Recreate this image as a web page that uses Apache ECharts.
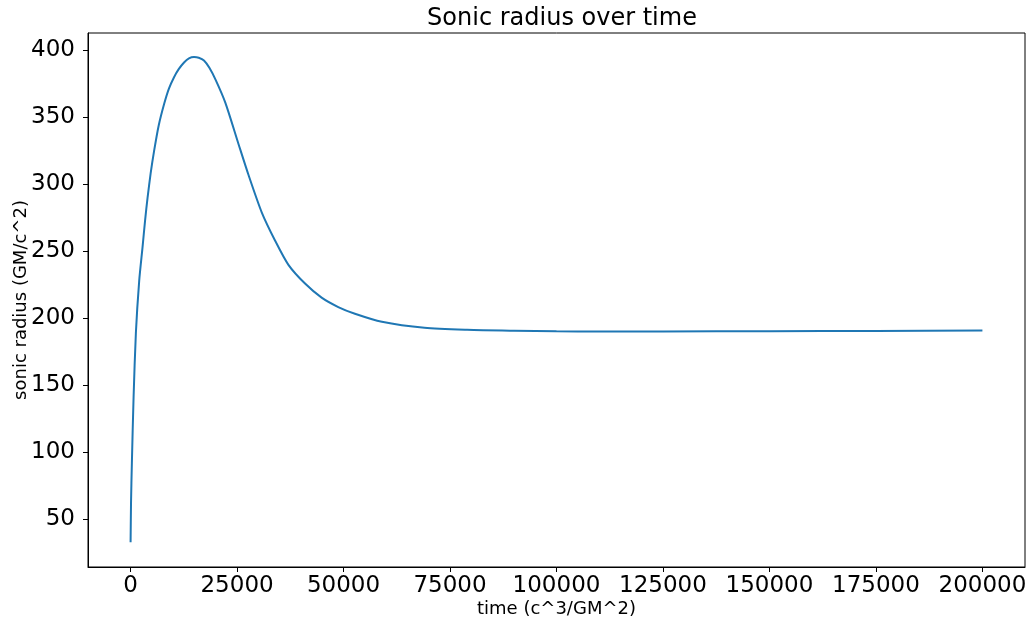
<!DOCTYPE html>
<html>
<head>
    <meta charset="utf-8">
    <title>Sonic radius over time</title>
    <script type="text/javascript" src="https://cdn.jsdelivr.net/npm/echarts@6/dist/echarts.min.js"></script>
    <style>
        html, body { margin: 0; padding: 0; background: #fff; }
    </style>
</head>
<body>
<div id="main" style="width:1031px;height:622px;"></div>
<script type="text/javascript">
    // time (c^3/GM^2) and sonic radius (GM/c^2)
    var times = [0, 100, 300, 700, 1240, 2020, 2800, 3400, 3980, 4700, 5520, 6600, 7870, 9000, 10200,
        11300, 12550, 13700, 14890, 16000, 17230, 18500, 19970, 22240, 25350, 27690, 30810, 33940,
        37060, 40960, 44850, 48760, 52670, 59000, 69000, 79000, 90000, 100000, 110000, 125000,
        150000, 175000, 200000];
    var radius = [33, 62, 92, 141, 189, 228, 253, 273, 290, 308, 325, 344, 360, 371.5, 380,
        386, 391, 394, 395, 394.5, 392.5, 387, 378, 361, 330, 307, 279, 258,
        240, 226, 215.5, 208.5, 203.5, 197.5, 193, 191.5, 190.8, 190.4, 190.3, 190.3,
        190.5, 190.7, 190.9];

    var xTicks = [0, 25000, 50000, 75000, 100000, 125000, 150000, 175000, 200000];
    var yTicks = [50, 100, 150, 200, 250, 300, 350, 400];

    var points = [];
    for (var i = 0; i < times.length; i++) {
        points.push([times[i], radius[i]]);
    }

    var myChart = echarts.init(document.getElementById('main'));
    var font = 'DejaVu Sans';
    var plain = function (v) { return String(v); };
    myChart.setOption({
        animation: false,
        title: {
            text: 'Sonic radius over time',
            left: 557,
            top: 2,
            textAlign: 'center',
            textStyle: {fontFamily: font, fontSize: 24, fontWeight: 'normal', color: '#000'}
        },
        grid: {
            left: 88, right: 6, top: 33, bottom: 55,
            outerBoundsMode: 'none',
            containLabel: false,
            show: true, borderColor: '#000', borderWidth: 1
        },
        xAxis: {
            type: 'value',
            min: -10000,
            max: 210000,
            name: 'time (c^3/GM^2)',
            nameLocation: 'middle',
            nameGap: 33,
            nameMoveOverlap: false,
            nameTextStyle: {fontFamily: font, fontSize: 18, color: '#000'},
            axisLine: {show: true, onZero: false, lineStyle: {color: '#000'}},
            axisTick: {show: true, length: 5, customValues: xTicks, lineStyle: {color: '#000'}},
            axisLabel: {customValues: xTicks, formatter: plain, margin: 8,
                fontFamily: font, fontSize: 23, color: '#000'},
            splitLine: {show: false}
        },
        yAxis: {
            type: 'value',
            min: 14.5,
            max: 413,
            name: 'sonic radius (GM/c^2)',
            nameLocation: 'middle',
            nameGap: 58,
            nameMoveOverlap: false,
            nameTextStyle: {fontFamily: font, fontSize: 18, color: '#000'},
            axisLine: {show: true, onZero: false, lineStyle: {color: '#000'}},
            axisTick: {show: true, length: 5, customValues: yTicks, lineStyle: {color: '#000'}},
            axisLabel: {customValues: yTicks, formatter: plain, margin: 13,
                fontFamily: font, fontSize: 23, color: '#000'},
            splitLine: {show: false}
        },
        series: [{
            type: 'line',
            data: points,
            showSymbol: false,
            smooth: 0.25,
            lineStyle: {color: '#1f77b4', width: 2},
            itemStyle: {color: '#1f77b4'}
        }]
    });
</script>
</body>
</html>
